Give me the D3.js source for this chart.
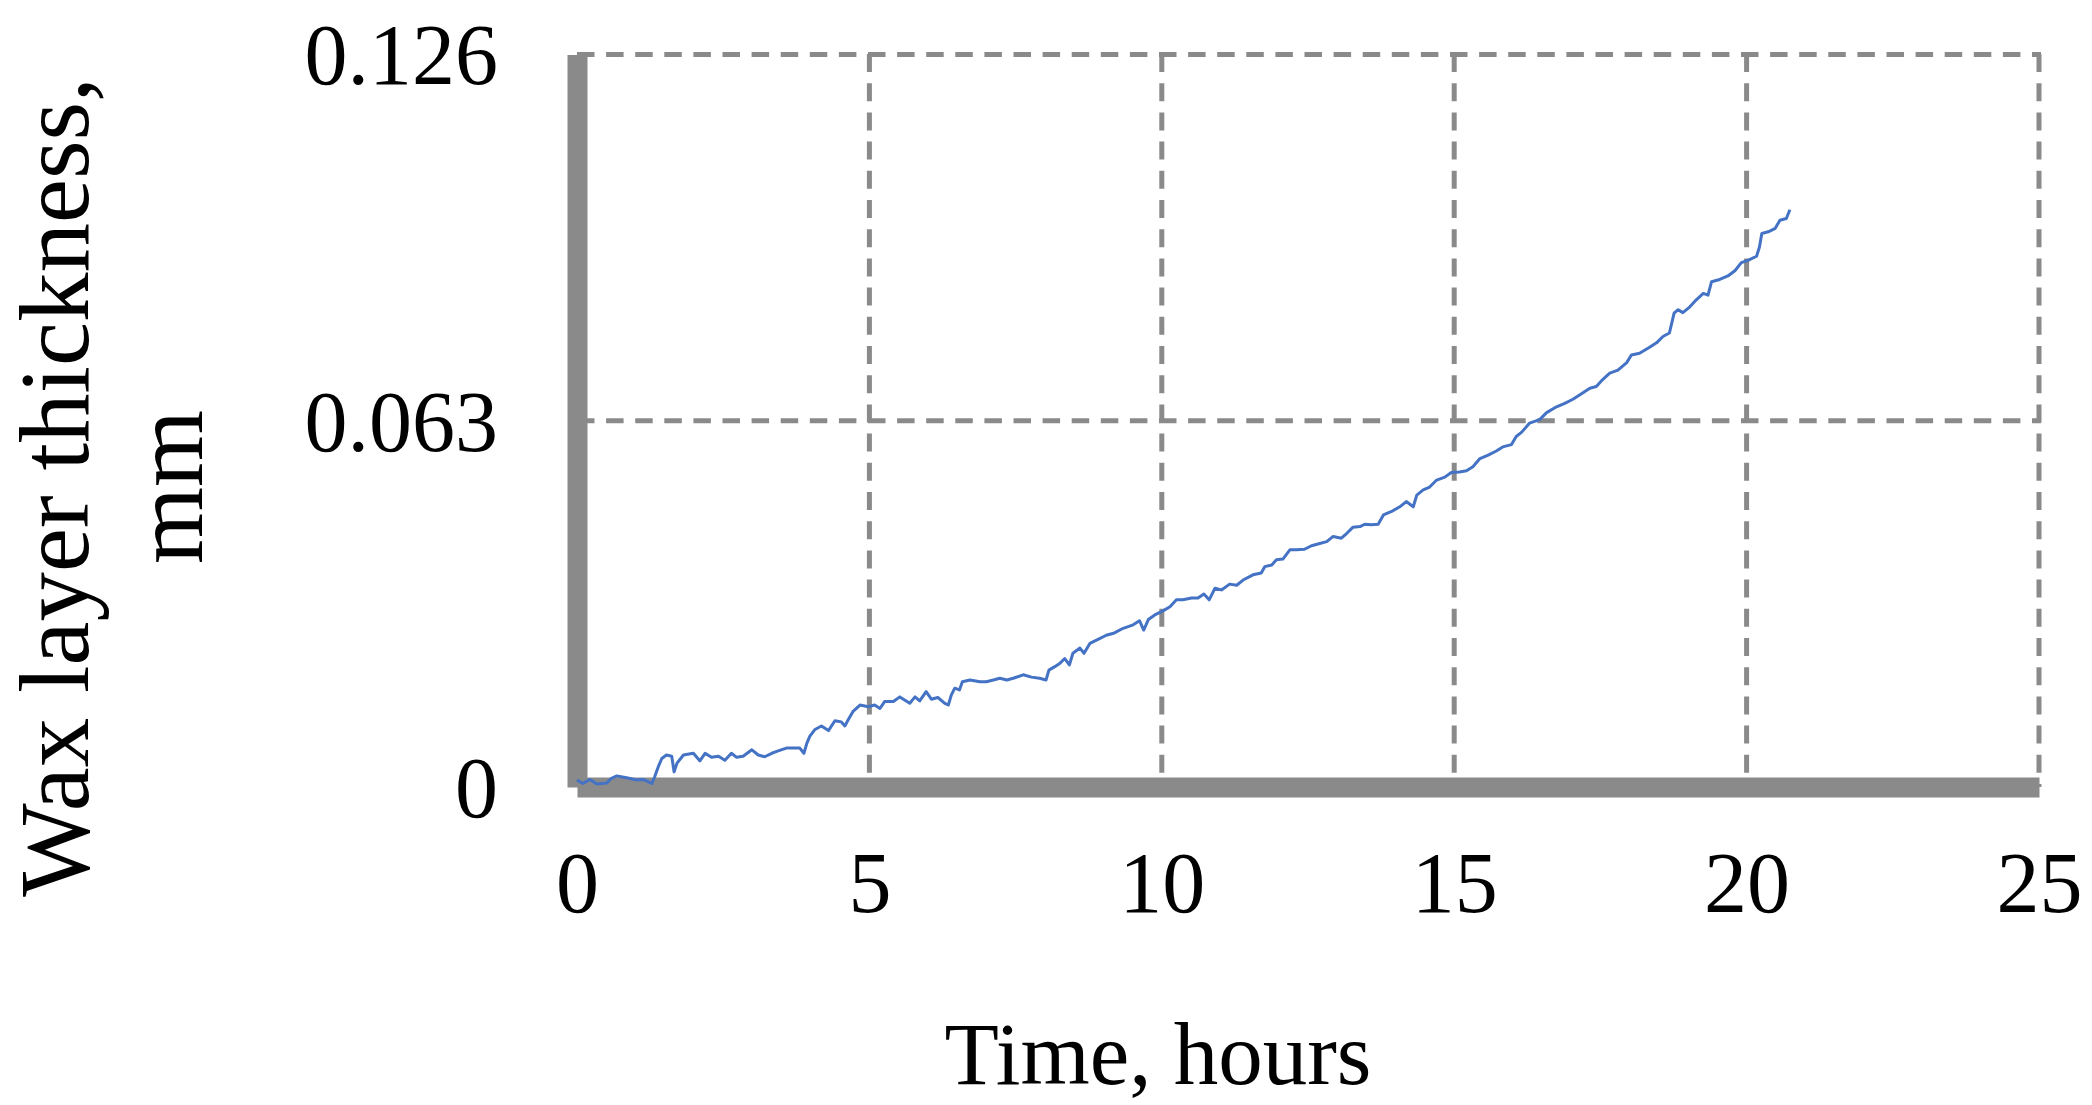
<!DOCTYPE html>
<html>
<head>
<meta charset="utf-8">
<script src="https://cdn.jsdelivr.net/npm/d3@7"></script>
<style>
  html, body { margin: 0; padding: 0; background: #ffffff; }
  svg { display: block; }
</style>
</head>
<body>
<svg id="chart" width="2092" height="1105"></svg>
<script>
// ---- data ----
const timeHours = [0, 0.10, 0.22, 0.34, 0.51, 0.59, 0.68, 0.85, 1.02, 1.13, 1.28, 1.33, 1.39, 1.45, 1.53, 1.62, 1.66, 1.71, 1.82, 1.99,
  2.10, 2.19, 2.30, 2.42, 2.53, 2.64, 2.73, 2.84, 2.99, 3.10, 3.21, 3.33, 3.44, 3.58, 3.70, 3.81, 3.88, 3.93, 3.98, 4.07,
  4.18, 4.30, 4.41, 4.52, 4.58, 4.64, 4.72, 4.84, 4.98, 5.09, 5.18, 5.26, 5.41, 5.52, 5.69, 5.78, 5.86, 5.97, 6.06, 6.17,
  6.29, 6.35, 6.40, 6.46, 6.54, 6.59, 6.72, 6.89, 7.00, 7.12, 7.23, 7.35, 7.46, 7.63, 7.77, 7.91, 8.02, 8.07, 8.17, 8.26,
  8.34, 8.42, 8.48, 8.60, 8.67, 8.77, 8.91, 9.05, 9.19, 9.34, 9.51, 9.62, 9.69, 9.77, 9.88, 10.02, 10.14, 10.25, 10.36, 10.51,
  10.62, 10.72, 10.81, 10.91, 11.02, 11.16, 11.28, 11.39, 11.56, 11.70, 11.76, 11.88, 11.96, 12.07, 12.19, 12.30, 12.44, 12.56, 12.67, 12.82,
  12.93, 13.07, 13.16, 13.27, 13.39, 13.47, 13.58, 13.70, 13.79, 13.93, 14.07, 14.18, 14.30, 14.36, 14.47, 14.58, 14.70, 14.84, 14.95, 15.09,
  15.21, 15.32, 15.44, 15.58, 15.72, 15.83, 15.98, 16.06, 16.15, 16.29, 16.46, 16.58, 16.75, 16.89, 17.03, 17.17, 17.32, 17.43, 17.52, 17.66,
  17.80, 17.95, 18.03, 18.17, 18.32, 18.46, 18.57, 18.68, 18.72, 18.76, 18.83, 18.91, 19.03, 19.14, 19.26, 19.34, 19.40, 19.54, 19.68, 19.80,
  19.91, 20.05, 20.17, 20.22, 20.26, 20.37, 20.49, 20.57, 20.68, 20.74];
const thicknessMm = [0.0012, 0.0006, 0.0013, 0.0005, 0.0007, 0.0015, 0.0019, 0.0016, 0.0012, 0.0013, 0.0006, 0.0018, 0.0035, 0.0049, 0.0055, 0.0053, 0.0026, 0.0041, 0.0055, 0.0058,
  0.0045, 0.0058, 0.0051, 0.0053, 0.0046, 0.0058, 0.0051, 0.0053, 0.0064, 0.0055, 0.0052, 0.0058, 0.0062, 0.0067, 0.0067, 0.0067, 0.0058, 0.0075, 0.0087, 0.0099,
  0.0105, 0.0097, 0.0114, 0.0112, 0.0105, 0.0116, 0.0130, 0.0141, 0.0138, 0.0141, 0.0135, 0.0147, 0.0147, 0.0155, 0.0144, 0.0155, 0.0148, 0.0164, 0.0151, 0.0154,
  0.0144, 0.0141, 0.0158, 0.0170, 0.0167, 0.0181, 0.0184, 0.0181, 0.0181, 0.0184, 0.0187, 0.0184, 0.0187, 0.0193, 0.0189, 0.0187, 0.0184, 0.0201, 0.0207, 0.0213,
  0.0221, 0.0210, 0.0230, 0.0239, 0.0230, 0.0247, 0.0254, 0.0261, 0.0265, 0.0273, 0.0279, 0.0286, 0.0270, 0.0288, 0.0296, 0.0303, 0.0310, 0.0322, 0.0322, 0.0325,
  0.0325, 0.0332, 0.0322, 0.0342, 0.0339, 0.0349, 0.0347, 0.0356, 0.0365, 0.0368, 0.0379, 0.0382, 0.0391, 0.0392, 0.0408, 0.0408, 0.0409, 0.0415, 0.0418, 0.0422,
  0.0431, 0.0428, 0.0436, 0.0447, 0.0448, 0.0452, 0.0451, 0.0452, 0.0468, 0.0474, 0.0482, 0.0491, 0.0482, 0.0502, 0.0511, 0.0516, 0.0528, 0.0533, 0.0541, 0.0542,
  0.0544, 0.0551, 0.0565, 0.0571, 0.0578, 0.0585, 0.0589, 0.0603, 0.0610, 0.0626, 0.0632, 0.0644, 0.0654, 0.0660, 0.0667, 0.0676, 0.0686, 0.0689, 0.0699, 0.0712,
  0.0717, 0.0730, 0.0743, 0.0746, 0.0755, 0.0764, 0.0775, 0.0781, 0.0798, 0.0815, 0.0821, 0.0816, 0.0826, 0.0838, 0.0849, 0.0846, 0.0869, 0.0873, 0.0879, 0.0888,
  0.0902, 0.0907, 0.0913, 0.0929, 0.0952, 0.0955, 0.0961, 0.0975, 0.0978, 0.0993];
const xTicks = [0, 5, 10, 15, 20, 25];
const yTicks = [0, 0.063, 0.126];
const xTitle = "Time, hours";
const yTitleLines = ["Wax layer thickness,", "mm"];

// ---- layout ----
const svg = d3.select("#chart");
const plotLeft = 577, plotRight = 2039, plotTop = 54.5, plotBottom = 787;
const gray = "#8a8a8a";
const blue = "#4472C4";
const font = "'Liberation Serif', 'Times New Roman', serif";

const x = d3.scaleLinear().domain([0, 25]).range([plotLeft, plotRight]);
const y = d3.scaleLinear().domain([0, 0.126]).range([plotBottom, plotTop]);

// gridlines
const grid = svg.append("g");
grid.selectAll("line.h").data(yTicks.filter(d => d > 0)).join("line")
  .attr("class", "h")
  .attr("x1", plotLeft).attr("x2", plotRight + 2)
  .attr("y1", d => y(d)).attr("y2", d => y(d))
  .attr("stroke", gray).attr("stroke-width", 5)
  .attr("stroke-dasharray", "17.5,11.6");
grid.selectAll("line.v").data(xTicks.filter(d => d > 0)).join("line")
  .attr("class", "v")
  .attr("x1", d => x(d)).attr("x2", d => x(d))
  .attr("y1", plotTop - 0.5).attr("y2", plotBottom)
  .attr("stroke", gray).attr("stroke-width", 5)
  .attr("stroke-dasharray", "18,11.2");

// axes
const yAxis = svg.append("g")
  .attr("transform", `translate(${plotLeft},0)`)
  .call(d3.axisLeft(y).tickValues(yTicks).tickSize(0).tickSizeOuter(0).tickPadding(79)
    .tickFormat(d => d === 0 ? "0" : d3.format(".3f")(d)));
const xAxis = svg.append("g")
  .attr("transform", `translate(0,${plotBottom})`)
  .call(d3.axisBottom(x).tickValues(xTicks).tickSize(0).tickSizeOuter(0).tickFormat(d3.format("d")));

[yAxis, xAxis].forEach(g => {
  g.select(".domain").attr("stroke", gray).attr("stroke-width", 20).attr("stroke-linecap", "butt");
  g.selectAll("text").attr("font-family", font).attr("font-size", 86).attr("fill", "#000");
});
yAxis.selectAll("text").attr("dy", "0.34em");
xAxis.selectAll("text").attr("y", 125).attr("dy", 0);

// data line
const pts = timeHours.map((t, i) => [t, thicknessMm[i]]);
svg.append("path")
  .datum(pts)
  .attr("fill", "none")
  .attr("stroke", blue)
  .attr("stroke-width", 3)
  .attr("stroke-linejoin", "round")
  .attr("d", d3.line().x(d => x(d[0])).y(d => y(d[1])));

// titles
svg.append("text")
  .attr("x", 1158).attr("y", 1084)
  .attr("text-anchor", "middle")
  .attr("font-family", font).attr("font-size", 89).attr("fill", "#000")
  .text(xTitle);

const yt = svg.append("text")
  .attr("transform", "translate(88,487) rotate(-90)")
  .attr("text-anchor", "middle")
  .attr("font-family", font).attr("font-size", 99).attr("fill", "#000");
yt.selectAll("tspan").data(yTitleLines).join("tspan")
  .attr("x", 0)
  .attr("dy", (d, i) => i === 0 ? 0 : 114)
  .text(d => d);
</script>
</body>
</html>
